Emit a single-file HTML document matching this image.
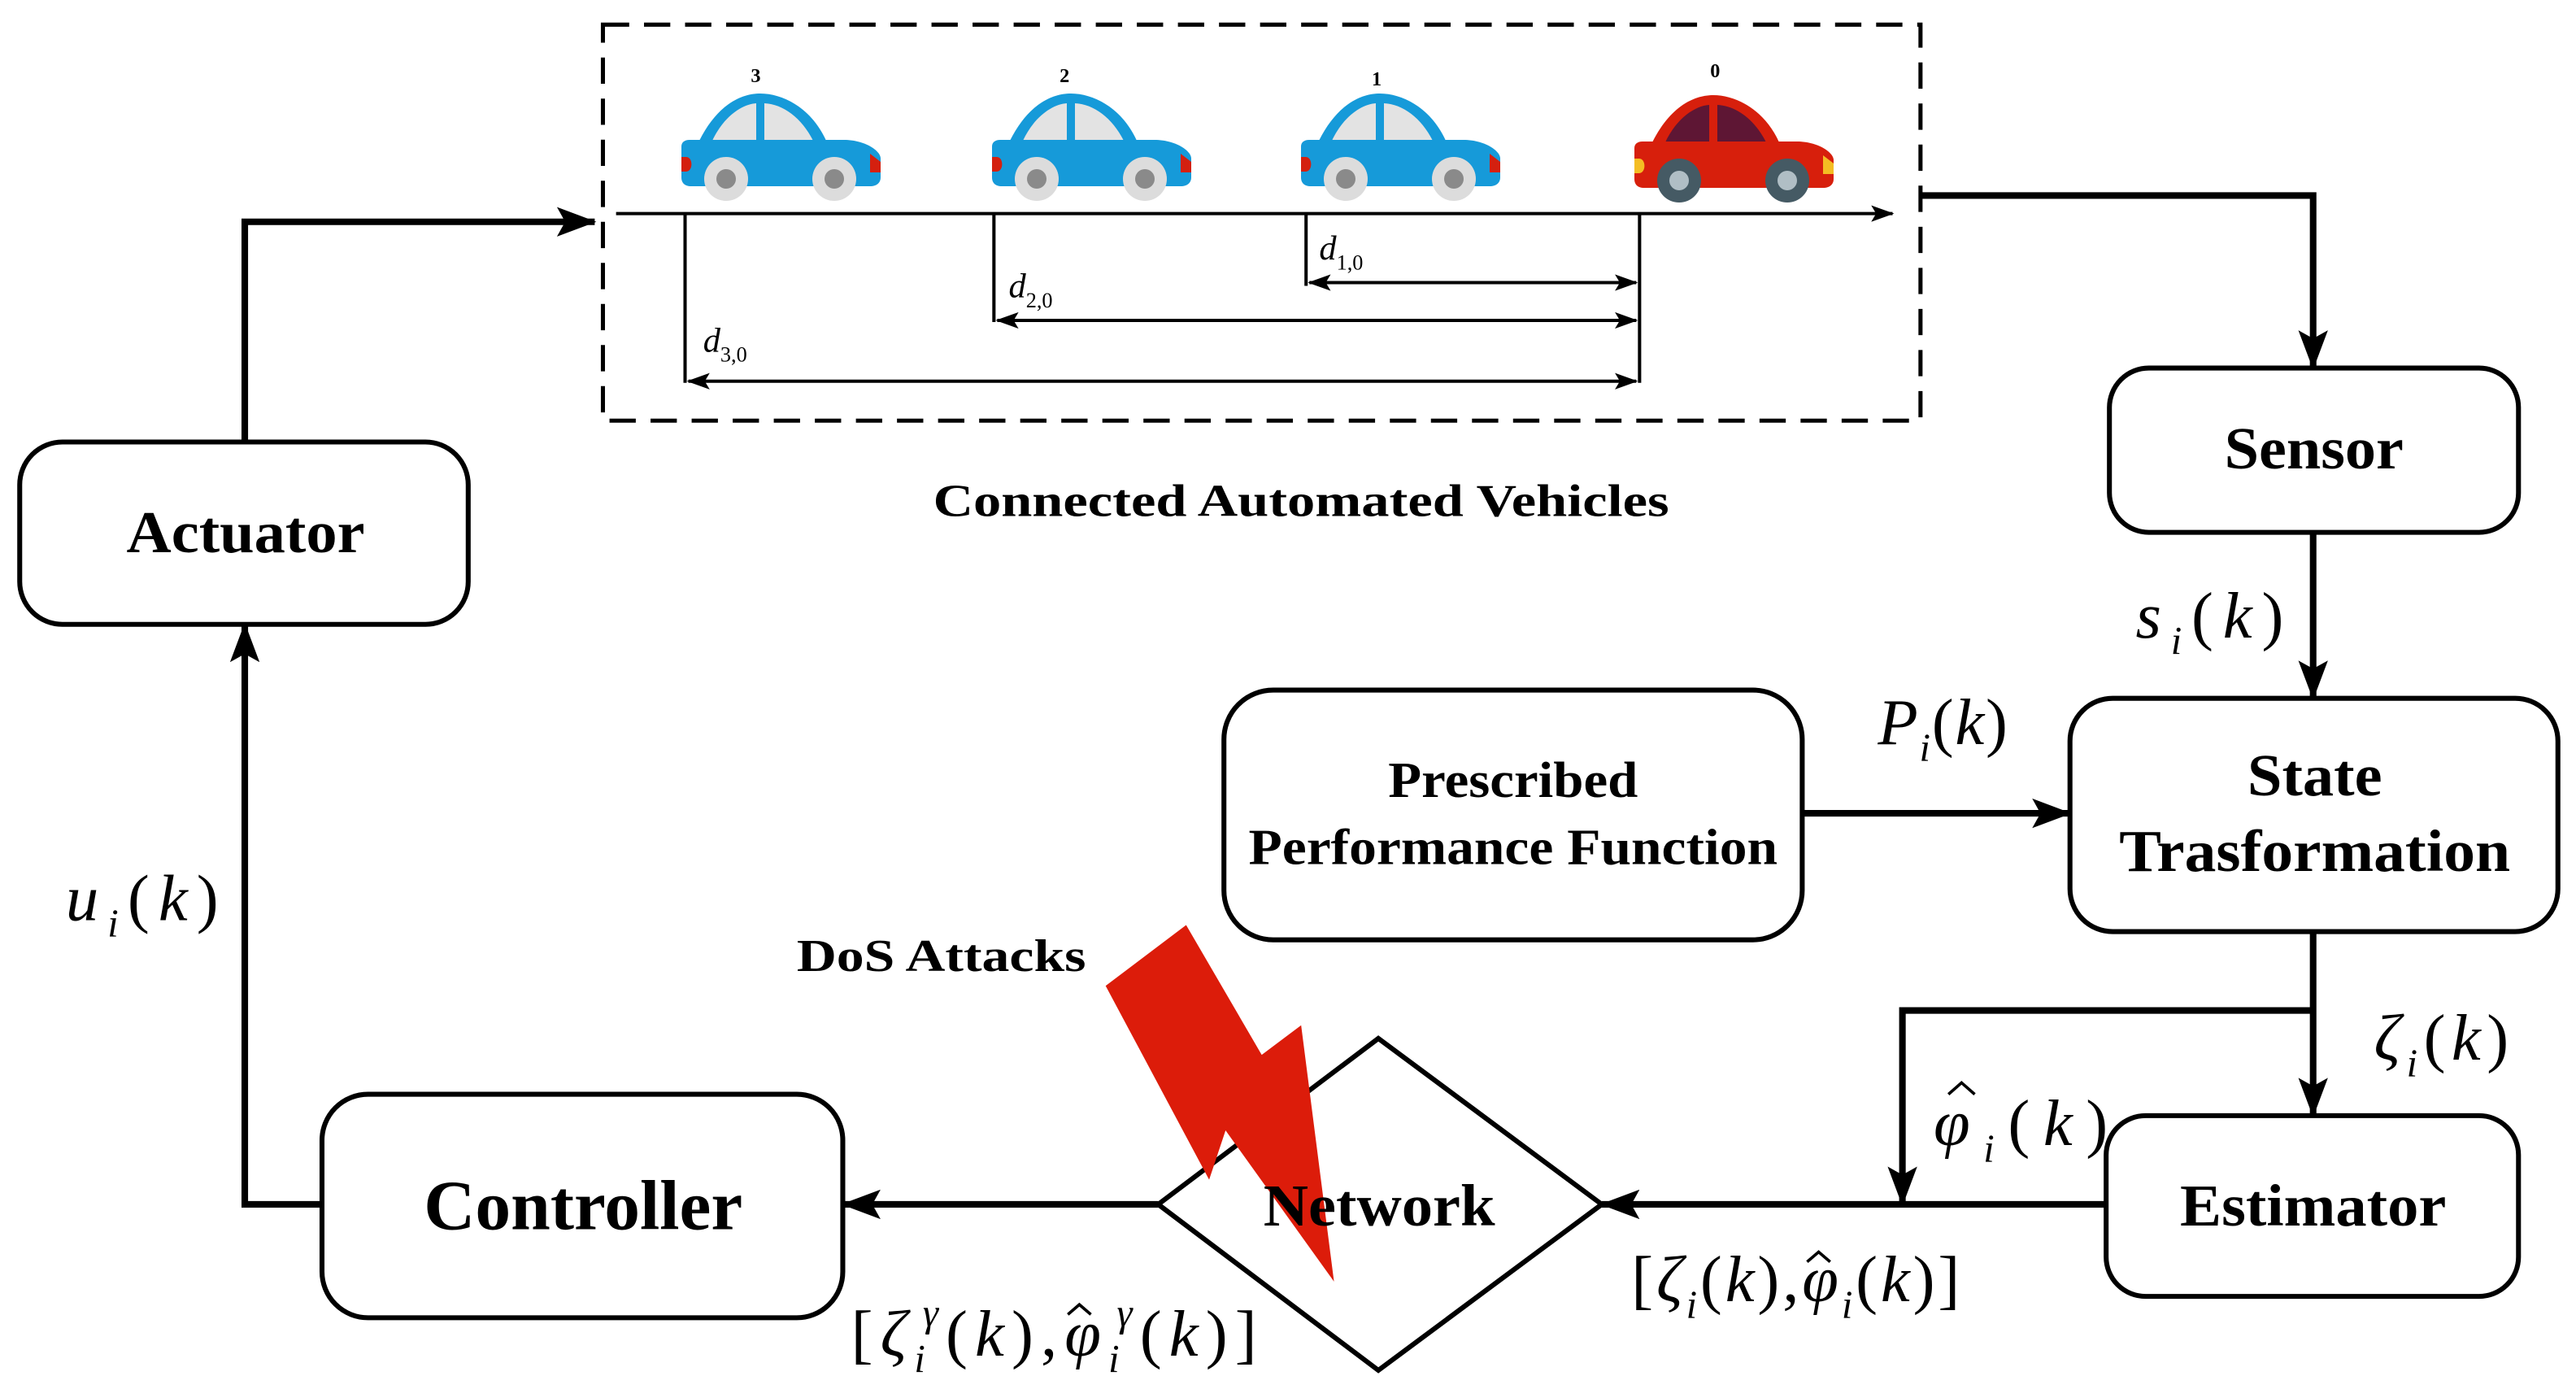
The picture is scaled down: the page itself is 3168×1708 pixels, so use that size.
<!DOCTYPE html>
<html><head><meta charset="utf-8"><style>html,body{margin:0;padding:0;background:#fff;}svg{display:block}</style></head>
<body>
<svg width="3168" height="1708" viewBox="0 0 3168 1708" xmlns="http://www.w3.org/2000/svg">
<defs>
<marker id="ah" markerWidth="14" markerHeight="10" refX="13" refY="5" orient="auto-start-reverse" markerUnits="userSpaceOnUse" viewBox="0 0 14 10"><path d="M0,0 L14,5 L0,10 L3,5 z" fill="#000"/></marker>
<marker id="as" markerWidth="24" markerHeight="18" refX="23" refY="9" orient="auto-start-reverse" markerUnits="userSpaceOnUse" viewBox="0 0 24 18"><path d="M0,0 L24,9 L0,18 L5,9 z" fill="#000"/></marker>
<g id="carB">
<path d="M22 58 C45 12 75 0 97 0 C125 0 160 18 178 58 Z" fill="#169ad9"/>
<path d="M38 58 C52 28 75 13 92 12 L92 58 Z M102 12 C125 13 148 30 162 58 L102 58 Z" fill="#e3e3e3"/>
<path d="M10 57 L200 57 C225 57 245 70 245 80 L245 103 C245 110 240 114 232 114 L12 114 C4 114 0 110 0 103 L0 65 C0 60 4 57 10 57 Z" fill="#169ad9"/>
<path d="M0 78 L6 78 C14 78 15 95 6 96 L0 96 Z" fill="#d4200f"/>
<path d="M232 74 L245 84 L245 97 L232 97 Z" fill="#d4200f"/>
<circle cx="55" cy="105" r="27" fill="#dcdcdc"/><circle cx="55" cy="105" r="12" fill="#8a8a8a"/>
<circle cx="188" cy="105" r="27" fill="#dcdcdc"/><circle cx="188" cy="105" r="12" fill="#8a8a8a"/>
</g>
</defs>

<use href="#carB" x="838" y="115"/>
<use href="#carB" x="1220" y="115"/>
<use href="#carB" x="1600" y="115"/>
<g transform="translate(2010,117)">
<path d="M22 58 C45 12 75 0 97 0 C125 0 160 18 178 58 Z" fill="#d71f0c"/>
<path d="M38 58 C52 28 75 13 92 12 L92 58 Z M102 12 C125 13 148 30 162 58 L102 58 Z" fill="#5e1634"/>
<path d="M10 57 L200 57 C225 57 245 70 245 80 L245 103 C245 110 240 114 232 114 L12 114 C4 114 0 110 0 103 L0 65 C0 60 4 57 10 57 Z" fill="#d71f0c"/>
<path d="M0 78 L6 78 C14 78 15 95 6 96 L0 96 Z" fill="#f4bd23"/>
<path d="M232 74 L245 84 L245 97 L232 97 Z" fill="#f4bd23"/>
<circle cx="55" cy="105" r="27" fill="#455a64"/><circle cx="55" cy="105" r="12" fill="#b0bec5"/>
<circle cx="188" cy="105" r="27" fill="#455a64"/><circle cx="188" cy="105" r="12" fill="#b0bec5"/>
</g>

<g transform="scale(2.0204)" font-family="Liberation Serif, serif" fill="none" stroke="#000">
<text x="460" y="50" font-size="12" font-weight="bold" fill="#000" stroke="none" text-anchor="middle">3</text>
<text x="648" y="50" font-size="12" font-weight="bold" fill="#000" stroke="none" text-anchor="middle">2</text>
<text x="838" y="52" font-size="12" font-weight="bold" fill="#000" stroke="none" text-anchor="middle">1</text>
<text x="1044" y="47" font-size="12" font-weight="bold" fill="#000" stroke="none" text-anchor="middle">0</text>

<rect x="367" y="15" width="802" height="241" stroke-width="2.5" stroke-dasharray="16,9"/>
<line x1="375" y1="130" x2="1152" y2="130" stroke-width="2" marker-end="url(#ah)"/>
<g stroke-width="2">
<line x1="417" y1="130" x2="417" y2="233"/><line x1="605" y1="130" x2="605" y2="196"/>
<line x1="795" y1="130" x2="795" y2="174"/><line x1="998" y1="130" x2="998" y2="233"/>
<line x1="797" y1="172" x2="996" y2="172" marker-start="url(#ah)" marker-end="url(#ah)"/>
<line x1="607" y1="195" x2="996" y2="195" marker-start="url(#ah)" marker-end="url(#ah)"/>
<line x1="419" y1="232" x2="996" y2="232" marker-start="url(#ah)" marker-end="url(#ah)"/>
</g>
<g fill="#000" stroke="none" font-style="italic">
<text x="803" y="158" font-size="21">d<tspan font-size="13" font-style="normal" dy="6">1,0</tspan></text>
<text x="614" y="181" font-size="21">d<tspan font-size="13" font-style="normal" dy="6">2,0</tspan></text>
<text x="428" y="214" font-size="21">d<tspan font-size="13" font-style="normal" dy="6">3,0</tspan></text>
</g>
<text x="568" y="314" font-size="28" font-weight="bold" fill="#000" stroke="none" textLength="448" lengthAdjust="spacingAndGlyphs">Connected Automated Vehicles</text>

<g stroke-width="3">
<rect x="12" y="269" width="273" height="111" rx="26"/>
<rect x="1284" y="224" width="249" height="100" rx="24"/>
<rect x="1260" y="425" width="297" height="142" rx="26"/>
<rect x="745" y="420" width="352" height="152" rx="30"/>
<rect x="1282" y="679" width="251" height="110" rx="24"/>
<rect x="196" y="666" width="317" height="136" rx="28"/>
<path d="M839 632 L975 733 L839 834 L705 733 Z"/>
</g>
<g fill="#000" stroke="none" font-weight="bold">
<text x="77" y="336" font-size="36" textLength="145" lengthAdjust="spacingAndGlyphs">Actuator</text>
<text x="1354" y="285" font-size="36" textLength="109" lengthAdjust="spacingAndGlyphs">Sensor</text>
<text x="1368" y="484" font-size="36" textLength="82" lengthAdjust="spacingAndGlyphs">State</text>
<text x="1290" y="530" font-size="36" textLength="238" lengthAdjust="spacingAndGlyphs">Trasformation</text>
<text x="845" y="485" font-size="31" textLength="152" lengthAdjust="spacingAndGlyphs">Prescribed</text>
<text x="760" y="526" font-size="31" textLength="322" lengthAdjust="spacingAndGlyphs">Performance Function</text>
<text x="1327" y="746" font-size="36" textLength="162" lengthAdjust="spacingAndGlyphs">Estimator</text>
<text x="258" y="748" font-size="43" textLength="194" lengthAdjust="spacingAndGlyphs">Controller</text>
<text x="485" y="591" font-size="28" textLength="176" lengthAdjust="spacingAndGlyphs">DoS Attacks</text>
</g>

<g stroke-width="4">
<path d="M149 268 V135 H362" marker-end="url(#as)"/>
<path d="M1170 119 H1408 V224" marker-end="url(#as)"/>
<path d="M1408 325 V425" marker-end="url(#as)"/>
<path d="M1097 495 H1260" marker-end="url(#as)"/>
<path d="M1408 567 V679" marker-end="url(#as)"/>
<path d="M1408 615 H1158 V733" marker-end="url(#as)"/>
<path d="M1282 733 H975" marker-end="url(#as)"/>
<path d="M705 733 H513" marker-end="url(#as)"/>
<path d="M196 733 H149 V380" marker-end="url(#as)"/>
</g>

<polygon points="673,600 722,563 768,642 792,624 812,780 746,688 736,718" fill="#dc1c0a" stroke="none"/>
<text x="769" y="746" font-size="36" font-weight="bold" fill="#000" stroke="none" textLength="141" lengthAdjust="spacingAndGlyphs">Network</text>

<g fill="#000" stroke="none" font-size="40">
<text x="1300" y="388" textLength="90" lengthAdjust="spacing"><tspan font-style="italic">s</tspan><tspan font-size="24" font-style="italic" dy="10">i</tspan><tspan dy="-10">(</tspan><tspan font-style="italic">k</tspan>)</text>
<text x="1143" y="453" textLength="79" lengthAdjust="spacing"><tspan font-style="italic">P</tspan><tspan font-size="24" font-style="italic" dy="10">i</tspan><tspan dy="-10">(</tspan><tspan font-style="italic">k</tspan>)</text>
<text x="1445" y="645" textLength="82" lengthAdjust="spacing"><tspan font-style="italic">ζ</tspan><tspan font-size="24" font-style="italic" dy="10">i</tspan><tspan dy="-10">(</tspan><tspan font-style="italic">k</tspan>)</text>
<text x="1177" y="697" textLength="106" lengthAdjust="spacing"><tspan font-style="italic">φ</tspan><tspan font-size="24" font-style="italic" dy="10">i</tspan><tspan dy="-10">(</tspan><tspan font-style="italic">k</tspan>)</text>
<text x="40" y="560" textLength="93" lengthAdjust="spacing"><tspan font-style="italic">u</tspan><tspan font-size="24" font-style="italic" dy="10">i</tspan><tspan dy="-10">(</tspan><tspan font-style="italic">k</tspan>)</text>
<text x="993" y="792" textLength="200" lengthAdjust="spacing">[<tspan font-style="italic">ζ</tspan><tspan font-size="24" font-style="italic" dy="10">i</tspan><tspan dy="-10">(</tspan><tspan font-style="italic">k</tspan>),<tspan font-style="italic">φ</tspan><tspan font-size="24" font-style="italic" dy="10">i</tspan><tspan dy="-10">(</tspan><tspan font-style="italic">k</tspan>)]</text>
<text x="518" y="825" textLength="247" lengthAdjust="spacing">[<tspan font-style="italic">ζ</tspan><tspan font-size="24" font-style="italic" dy="10">i</tspan><tspan font-size="24" font-style="italic" dy="-28" dx="-6">γ</tspan><tspan dy="18">(</tspan><tspan font-style="italic">k</tspan>),<tspan font-style="italic">φ</tspan><tspan font-size="24" font-style="italic" dy="10">i</tspan><tspan font-size="24" font-style="italic" dy="-28" dx="-6">γ</tspan><tspan dy="18">(</tspan><tspan font-style="italic">k</tspan>)]</text>
</g>
<g stroke="#000" stroke-width="1.8" fill="none">
<path d="M1186 666 L1194 659 L1202 666"/>
<path d="M1100 768 L1107 762 L1114 768"/>
<path d="M650 800 L657 794 L664 800"/>
</g>
</g>
</svg>
</body></html>
